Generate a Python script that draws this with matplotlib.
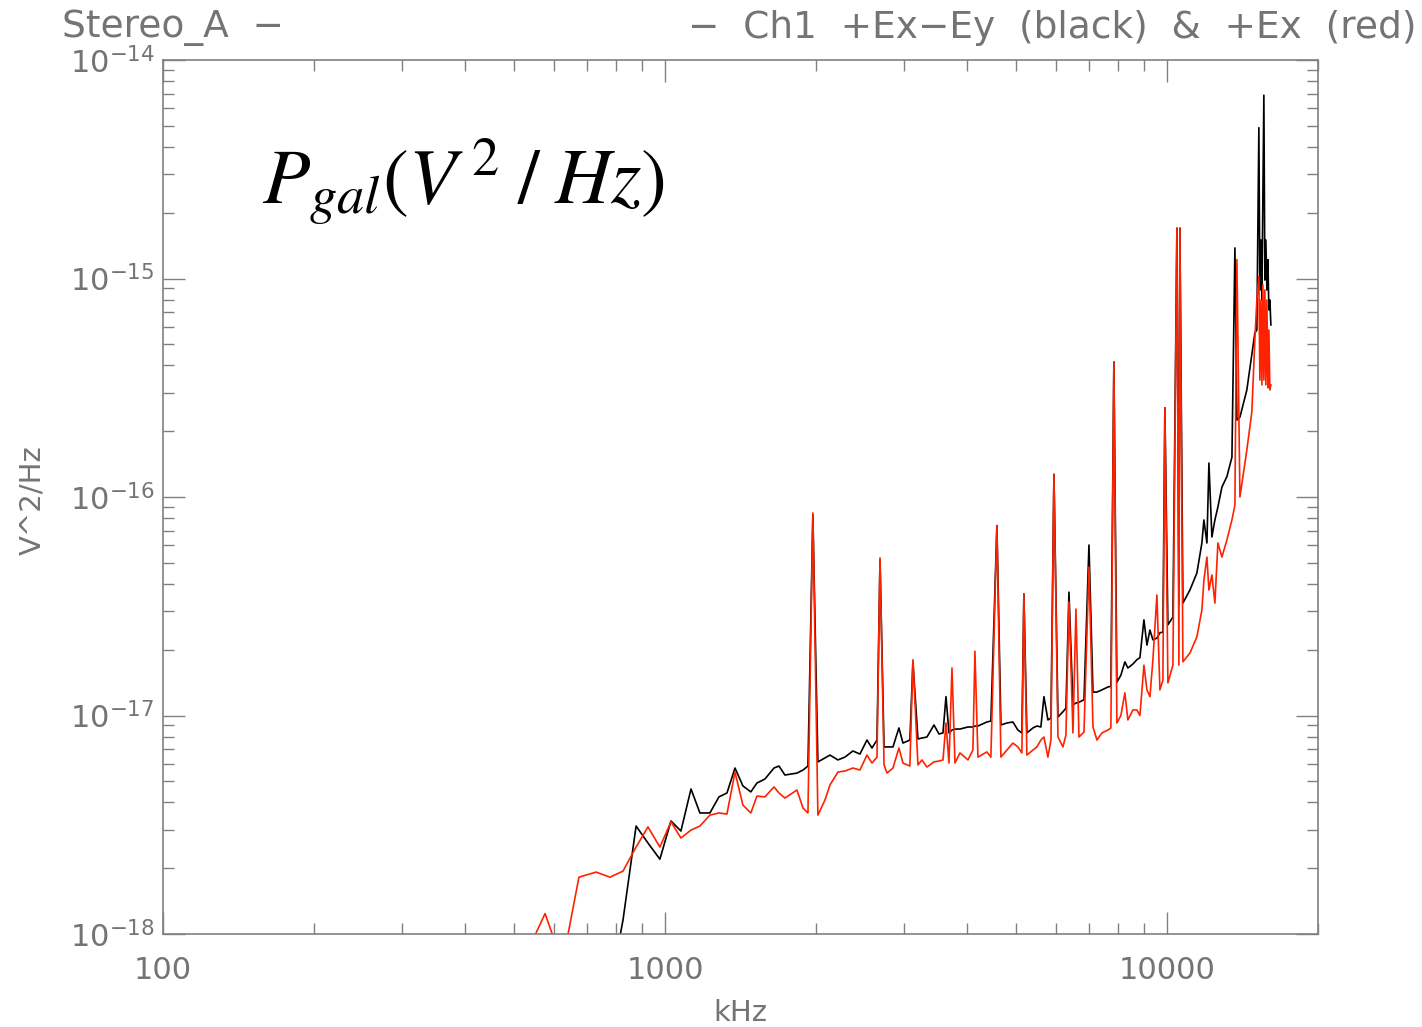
import matplotlib
matplotlib.use('Agg')
import matplotlib.pyplot as plt
from matplotlib.ticker import FixedLocator, LogLocator, NullFormatter

# frequency channels (kHz)
freq_khz = [534, 577, 607, 635, 674, 729, 777, 825, 876, 925,
            977, 1028, 1076, 1127, 1174, 1229, 1281, 1329, 1379, 1430,
            1483, 1525, 1582, 1649, 1687, 1734, 1832, 1884, 1927, 1971,
            2017, 2083, 2132, 2211, 2283, 2368, 2446, 2526, 2585, 2645,
            2682, 2732, 2769, 2846, 2925, 2980, 3076, 3119, 3192, 3251,
            3326, 3435, 3515, 3580, 3630, 3680, 3731, 3783, 3870, 4015,
            4107, 4145, 4203, 4378, 4460, 4585, 4670, 4800, 4934, 5048,
            5142, 5189, 5261, 5409, 5508, 5610, 5689, 5794, 5875, 5956,
            6067, 6207, 6293, 6381, 6499, 6589, 6681, 6836, 6994, 7124,
            7256, 7421, 7629, 7734, 7841, 7950, 8097, 8247, 8361, 8556,
            8714, 8836, 9000, 9125, 9251, 9379, 9552, 9684, 9818, 9908,
            10046, 10280, 10470, 10566, 10614, 10762, 11112, 11475, 11741, 11850,
            12015, 12126, 12293, 12463, 12636, 12871, 13169, 13475, 13662, 13787,
            13979, 14430, 14764, 14969, 15108, 15248, 15318, 15389, 15460, 15531,
            15602, 15674, 15746, 15819, 15892, 15965, 16039, 16112]

# Ch1 +Ex-Ey (black)
black_pow = [5.0e-19, 5.0e-19, 5.0e-19, 5.0e-19, 5.0e-19, 5.0e-19, 5.5e-19, 1.16e-18, 3.12e-18, 2.61e-18,
             2.20e-18, 3.29e-18, 2.96e-18, 4.61e-18, 3.58e-18, 3.58e-18, 4.24e-18, 4.42e-18, 5.75e-18, 4.76e-18,
             4.47e-18, 4.91e-18, 5.12e-18, 5.75e-18, 5.87e-18, 5.34e-18, 5.45e-18, 5.63e-18, 5.87e-18, 8.27e-17,
             6.13e-18, 6.39e-18, 6.59e-18, 6.26e-18, 6.45e-18, 6.88e-18, 6.66e-18, 7.72e-18, 7.10e-18, 7.72e-18,
             5.15e-17, 7.18e-18, 7.18e-18, 7.18e-18, 8.77e-18, 7.48e-18, 7.72e-18, 1.76e-17, 7.81e-18, 7.89e-18,
             7.97e-18, 9.05e-18, 8.23e-18, 8.32e-18, 1.22e-17, 8.32e-18, 8.58e-18, 8.67e-18, 8.67e-18, 8.86e-18,
             8.86e-18, 8.95e-18, 8.95e-18, 9.34e-18, 9.43e-18, 7.4e-17, 9.05e-18, 9.24e-18, 9.34e-18, 8.58e-18,
             8.32e-18, 3.60e-17, 8.32e-18, 8.77e-18, 8.95e-18, 8.86e-18, 1.22e-17, 9.54e-18, 9.74e-18, 1.27e-16,
             9.84e-18, 1.04e-17, 1.08e-17, 3.67e-17, 1.12e-17, 1.14e-17, 1.15e-17, 1.18e-17, 6.03e-17, 1.28e-17,
             1.28e-17, 1.31e-17, 1.35e-17, 1.36e-17, 4.15e-16, 1.42e-17, 1.53e-17, 1.76e-17, 1.65e-17, 1.72e-17,
             1.80e-17, 1.84e-17, 2.74e-17, 2.10e-17, 2.46e-17, 2.22e-17, 2.26e-17, 2.39e-17, 2.41e-17, 2.56e-16,
             2.60e-17, 2.82e-17, 1.70e-15, 3.20e-17, 1.70e-15, 3.27e-17, 3.75e-17, 4.49e-17, 6.16e-17, 7.85e-17,
             6.16e-17, 1.43e-16, 6.56e-17, 7.85e-17, 9.00e-17, 1.11e-16, 1.24e-16, 1.52e-16, 1.38e-15, 2.25e-16,
             2.32e-16, 3.09e-16, 4.47e-16, 5.63e-16, 5.81e-16, 4.9e-15, 8.86e-16, 1.50e-15, 7.97e-16, 2.29e-15,
             6.9e-15, 9.84e-16, 1.50e-15, 8.86e-16, 1.22e-15, 7.18e-16, 7.97e-16, 6.13e-16]

# +Ex (red)
red_pow = [8.45e-19, 1.24e-18, 8.9e-19, 8.9e-19, 1.82e-18, 1.92e-18, 1.82e-18, 1.94e-18, 2.50e-18, 3.09e-18,
           2.50e-18, 3.26e-18, 2.75e-18, 2.99e-18, 3.12e-18, 3.50e-18, 3.58e-18, 3.54e-18, 5.51e-18, 3.89e-18,
           3.58e-18, 4.28e-18, 4.24e-18, 4.71e-18, 4.42e-18, 4.19e-18, 4.56e-18, 3.77e-18, 3.58e-18, 8.45e-17,
           3.50e-18, 4.10e-18, 4.81e-18, 5.51e-18, 5.57e-18, 5.75e-18, 5.63e-18, 6.59e-18, 6.06e-18, 6.45e-18,
           5.26e-17, 5.94e-18, 5.45e-18, 5.75e-18, 7.10e-18, 6.06e-18, 5.87e-18, 1.80e-17, 5.94e-18, 6.26e-18,
           5.81e-18, 6.13e-18, 6.19e-18, 6.26e-18, 9.24e-18, 6.06e-18, 1.65e-17, 6.06e-18, 6.74e-18, 6.26e-18,
           6.95e-18, 1.97e-17, 6.45e-18, 6.81e-18, 6.45e-18, 7.37e-17, 6.45e-18, 6.95e-18, 7.48e-18, 7.18e-18,
           6.74e-18, 3.60e-17, 6.59e-18, 6.95e-18, 7.18e-18, 7.72e-18, 7.97e-18, 6.45e-18, 7.72e-18, 1.27e-16,
           7.97e-18, 7.18e-18, 8.14e-18, 3.31e-17, 8.32e-18, 3.07e-17, 7.97e-18, 8.40e-18, 4.78e-17, 8.86e-18,
           7.72e-18, 8.32e-18, 8.58e-18, 8.77e-18, 4.15e-16, 9.24e-18, 1.0e-17, 1.27e-17, 9.54e-18, 1.06e-17,
           1.06e-17, 1.0e-17, 1.70e-17, 1.31e-17, 1.22e-17, 1.80e-17, 3.56e-17, 1.31e-17, 1.45e-17, 2.56e-16,
           1.41e-17, 1.70e-17, 1.70e-15, 1.70e-17, 1.70e-15, 1.76e-17, 1.93e-17, 2.29e-17, 3.04e-17, 4.17e-17,
           5.31e-17, 3.75e-17, 4.40e-17, 3.27e-17, 6.16e-17, 5.31e-17, 6.36e-17, 7.85e-17, 9.19e-17, 1.22e-15,
           1.0e-16, 1.64e-16, 2.45e-16, 5.23e-16, 7.97e-16, 1.02e-15, 3.43e-16, 7.97e-16, 3.26e-16, 9.34e-16,
           3.43e-16, 8.86e-16, 3.26e-16, 7.97e-16, 3.16e-16, 5.81e-16, 3.09e-16, 3.26e-16]

xticks = [100, 1000, 10000]
xtick_labels = ['100', '1000', '10000']
yticks = [1e-18, 1e-17, 1e-16, 1e-15, 1e-14]
ytick_labels = [r'$10^{-18}$', r'$10^{-17}$', r'$10^{-16}$', r'$10^{-15}$', r'$10^{-14}$']

gray = '#808080'
txtgray = '#747474'
W, H = 1422, 1027
fig = plt.figure(figsize=(W / 100, H / 100), dpi=100)
ax = fig.add_axes([163 / W, 1 - 934 / H, (1318 - 163) / W, (934 - 60) / H])

ax.plot(freq_khz, black_pow, color='black', lw=1.2)
ax.plot(freq_khz, red_pow, color='#ff2200', lw=1.2)

ax.set_xscale('log')
ax.set_yscale('log')
ax.set_xlim(100, 20000)
ax.set_ylim(1e-18, 1e-14)

ax.xaxis.set_major_locator(FixedLocator(xticks))
ax.set_xticklabels(xtick_labels)
ax.xaxis.set_minor_locator(LogLocator(base=10, subs=range(2, 10), numticks=20))
ax.xaxis.set_minor_formatter(NullFormatter())
ax.yaxis.set_major_locator(FixedLocator(yticks))
ax.set_yticklabels(ytick_labels)
ax.yaxis.set_minor_locator(LogLocator(base=10, subs=range(2, 10), numticks=20))
ax.yaxis.set_minor_formatter(NullFormatter())

for s in ax.spines.values():
    s.set_color(gray)
    s.set_linewidth(1.2)
ax.tick_params(which='both', direction='in', top=True, right=True, color=gray,
               labelcolor=txtgray, width=1.0)
ax.tick_params(which='major', length=16, labelsize=22)
ax.tick_params(which='minor', length=8)
ax.tick_params(axis='x', which='major', pad=16)
ax.tick_params(axis='y', which='major', pad=6)

fig.text(62 / W, 1 - 28 / H, 'Stereo_A  \u2212', ha='left', va='center',
         fontsize=27, color=txtgray)
fig.text(1416 / W, 1 - 28 / H, '\u2212  Ch1  +Ex\u2212Ey  (black)  &  +Ex  (red)',
         ha='right', va='center', fontsize=27, color=txtgray)
fig.text(32 / W, 1 - 500 / H, 'V^2/Hz', rotation=90, ha='center', va='center',
         fontsize=21, color=txtgray)
fig.text(740 / W, 1 - 1013 / H, 'kHz', ha='center', va='center',
         fontsize=21, color=txtgray)

fig.text(262 / W, 1 - 182 / H, r'$P_{gal}(V^{\,2}\;/\;Hz)$', ha='left', va='center',
         fontsize=56, math_fontfamily='stix', color='black')

fig.savefig('out.png', dpi=100)
